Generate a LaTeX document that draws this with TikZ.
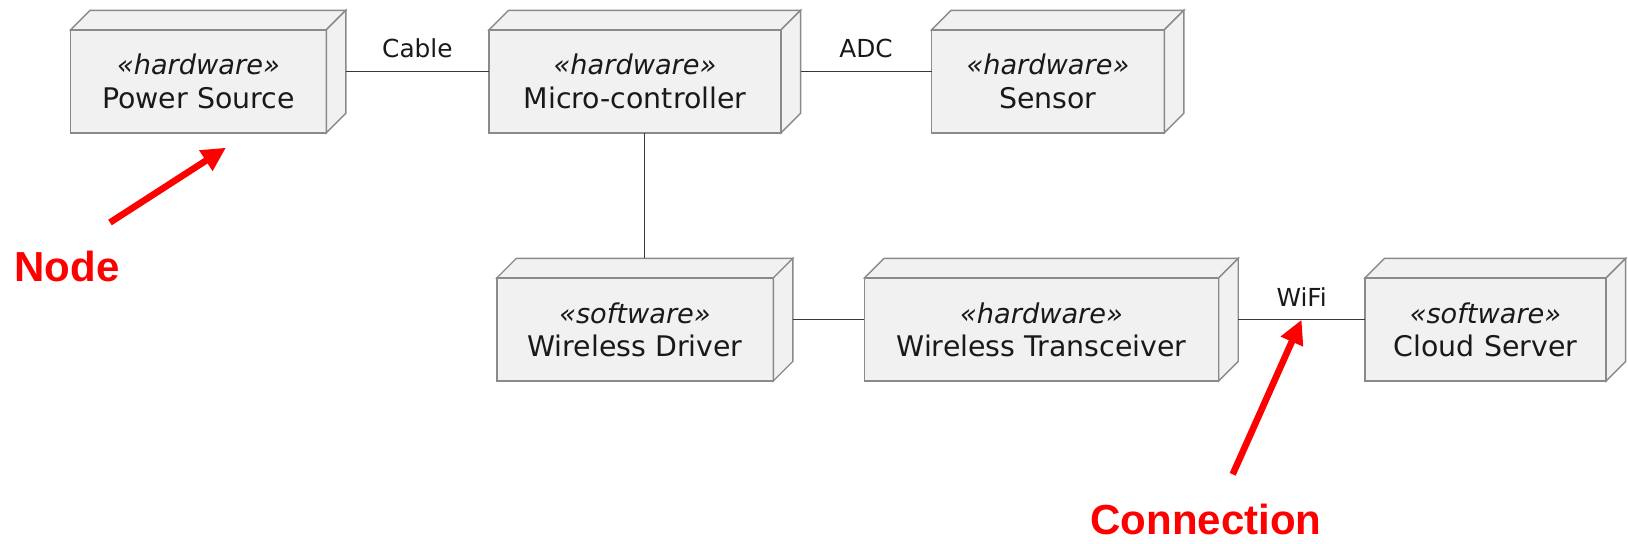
\documentclass[tikz,border=0pt]{standalone}
\usepackage{fontspec}
\setmainfont{DejaVu Sans}
\newfontfamily\calloutfont{Liberation Sans}
\usetikzlibrary{arrows.meta,positioning,backgrounds,calc}
\definecolor{boxfill}{HTML}{F1F1F1}
\definecolor{boxline}{HTML}{8A8A8A}
\definecolor{linkline}{HTML}{383838}
\definecolor{calloutred}{HTML}{FF0000}
\newcommand{\stereo}[2]{\textit{«#1»}\\{\fontsize{14.2}{16.6}\selectfont #2}}
\newcommand{\boxdepth}{9.75pt}
\tikzset{
  device/.style={
    rectangle, inner sep=0pt, outer sep=0pt,
    minimum width=#1, minimum height=61.25pt
  },
  device text/.style={
    align=center, inner sep=0pt, xshift=-4.9pt, yshift=-4.9pt,
    font=\fontsize{13.6}{16.6}\selectfont, text=black!90
  },
  device face/.style={fill=boxfill, draw=boxline, line width=0.7pt},
  link/.style={draw=linkline, line width=0.65pt},
  link label/.style={above=6.4pt, inner sep=0pt, font=\fontsize{12.4}{14}\selectfont, text=black!90},
  callout/.style={draw=calloutred, line width=3.3pt, -{Triangle[length=12pt,width=11.5pt]}},
  callout text/.style={text=calloutred, inner sep=0pt, font=\calloutfont\bfseries\fontsize{21}{24}\selectfont}
}

\begin{document}
\begin{tikzpicture}[x=0.5pt, y=-0.5pt]
  \useasboundingbox (0,0) rectangle (1628,544);
  \node[device=137.6pt, label={[device text]center:{\stereo{hardware}{Power Source}}}] (power) at (208.2,71.6) {};
  \node[device=155.8pt, right=71.6pt of power, label={[device text]center:{\stereo{hardware}{Micro-controller}}}] (micro) {};
  \node[device=126.1pt, right=65.5pt of micro, label={[device text]center:{\stereo{hardware}{Sensor}}}] (sensor) {};
  \node[device=148pt, below=62.8pt of micro, label={[device text]center:{\stereo{software}{Wireless Driver}}}] (driver) {};
  \node[device=186.9pt, right=35.8pt of driver, label={[device text]center:{\stereo{hardware}{Wireless Transceiver}}}] (radio) {};
  \node[device=130.3pt, right=63.4pt of radio, label={[device text]center:{\stereo{software}{Cloud Server}}}] (cloud) {};

  \begin{scope}[on background layer]
    \foreach \n in {power,micro,sensor,driver,radio,cloud}{
      \filldraw[device face] (\n.south west) rectangle ($(\n.north east)+(-\boxdepth,-\boxdepth)$);
      \filldraw[device face] (\n.north west) ++(0pt,-\boxdepth) -- ++(\boxdepth,\boxdepth) -- (\n.north east) -- ++(-\boxdepth,-\boxdepth) -- cycle;
      \filldraw[device face] ($(\n.north east)+(-\boxdepth,-\boxdepth)$) -- (\n.north east) -- ($(\n.south east)+(0pt,\boxdepth)$) -- ($(\n.south east)+(-\boxdepth,0pt)$) -- cycle;
    }
  \end{scope}

  \draw[link] (power) -- node[link label] {Cable} (micro);
  \draw[link] (micro) -- node[link label] {ADC} (sensor);
  \draw[link] (micro) -- (driver);
  \draw[link] (driver) -- (radio);
  \draw[link] (radio) -- node[link label] {WiFi} coordinate[midway] (wifi) (cloud);

  \node[callout text, anchor=base west] (nodetext) at (14,282) {Node};
  \node[callout text, anchor=base] (conntext) at (1206,535) {Connection};
  \coordinate (nodetail) at (110,222.5);
  \coordinate (nodetip) at (226,147.7);
  \coordinate (conntail) at (1232.7,474.3);
  \draw[callout] (nodetail) -- (nodetip);
  \draw[callout] (conntail) -- (wifi);
\end{tikzpicture}
\end{document}
